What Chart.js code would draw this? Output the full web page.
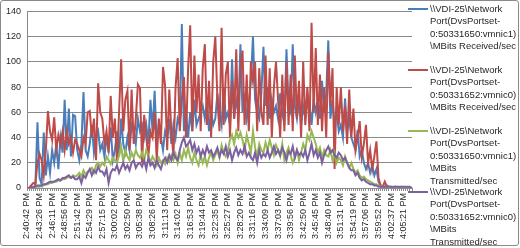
<!DOCTYPE html>
<html><head><meta charset="utf-8">
<script src="https://cdn.jsdelivr.net/npm/chart.js@4/dist/chart.umd.min.js"></script>
<style>
html,body{margin:0;padding:0;background:#fff;}
#wrap{position:relative;width:520px;height:248px;overflow:hidden;background:#fff;}
#frame{position:absolute;left:0;top:0;width:519px;height:246px;box-sizing:border-box;border:1px solid #8a8a8a;border-radius:3px;pointer-events:none;}
canvas{position:absolute;left:0;top:0;}
.leg{position:absolute;left:408px;font:9.5px "Liberation Sans",Arial,sans-serif;color:#262626;line-height:12.4px;white-space:nowrap;}
.leg .sw{position:absolute;left:0;width:20px;height:2px;top:5px;}
.leg .tx{margin-left:22px;}
</style></head>
<body>
<div id="wrap">
<canvas id="c" width="520" height="248"></canvas>
<div id="frame"></div>
<div class="leg" style="top:3px"><div class="sw" style="background:#4A7EBB"></div><div class="tx">\\VDI-25\Network<br>Port(DvsPortset-<br>0:50331650:vmnic1)<br>\MBits Received/sec</div></div>
<div class="leg" style="top:64px"><div class="sw" style="background:#BE4B48"></div><div class="tx">\\VDI-25\Network<br>Port(DvsPortset-<br>0:50331652:vmnic0)<br>\MBits Received/sec</div></div>
<div class="leg" style="top:125px"><div class="sw" style="background:#98B954"></div><div class="tx">\\VDI-25\Network<br>Port(DvsPortset-<br>0:50331650:vmnic1)<br>\MBits<br>Transmitted/sec</div></div>
<div class="leg" style="top:186px"><div class="sw" style="background:#7D60A0"></div><div class="tx">\\VDI-25\Network<br>Port(DvsPortset-<br>0:50331652:vmnic0)<br>\MBits<br>Transmitted/sec</div></div>
</div>
<script>
const tickLabels = ["2:40:42 PM","2:43:26 PM","2:46:11 PM","2:48:56 PM","2:51:42 PM","2:54:29 PM","2:57:15 PM","3:00:02 PM","3:02:50 PM","3:05:38 PM","3:08:26 PM","3:11:13 PM","3:14:02 PM","3:16:53 PM","3:19:44 PM","3:22:35 PM","3:25:27 PM","3:28:20 PM","3:31:16 PM","3:34:09 PM","3:37:03 PM","3:39:56 PM","3:42:50 PM","3:45:45 PM","3:48:40 PM","3:51:31 PM","3:54:19 PM","3:57:06 PM","3:59:52 PM","4:02:37 PM","4:05:21 PM"];
const LABEL_EVERY = 6;

const recvNic1 = [
0,0,1,0,2,52, 8,3,44,10,25,12, 30,20,35,15,40,28, 70,30,63,25,58,57, 30,22,35,76,30,25,
35,50,28,40,45,30, 35,25,40,30,48,22, 30,45,25,55,35,28, 40,30,50,45,35,55, 45,50,40,50,35,70,
45,77,35,50,40,30, 45,40,55,35,50,40, 55,50,130,45,60,40, 60,45,70,50,55,60, 65,55,70,45,60,50,
55,75,60,50,80,55, 60,50,102,55,70,60, 114,60,75,55,65,85, 120,70,60,55,75,112, 65,80,55,70,60,65,
55,75,60,50,110,65, 60,114,65,55,70,50, 65,55,75,65,50,70, 60,70,55,85,60,75, 117,55,70,50,60,45,
50,40,71,45,55,40, 35,30,46,25,30,20, 15,20,12,18,10,15, 5,2,1,1,2,1, 1,0,1,0,0,1, 0,0,0,0,0];

const recvNic0 = [
0,0,2,4,3,20, 27,22,10,30,61,45, 38,56,30,42,35,45, 30,45,35,40,28,38, 35,30,25,40,35,60,
61,40,55,22,83,60, 55,35,45,28,73,40, 55,20,60,102,45,70, 77,30,78,35,55,82, 79,20,58,40,25,45,
40,60,22,55,35,96, 81,30,78,45,25,80, 103,45,70,88,40,95, 129,45,105,60,90,45, 95,114,50,85,40,100,
120,70,45,127,50,90, 100,40,85,55,110,45, 95,109,50,90,45,100, 85,100,45,95,60,50, 105,50,95,40,80,100,
70,40,90,45,100,50, 90,45,105,55,85,40, 100,50,80,45,131,60, 111,50,90,45,80,40, 108,65,95,15,80,50,
80,45,65,35,78,40, 63,30,40,53,25,35, 50,20,30,15,25,37, 8,2,1,5,1,1, 0,0,1,0,0,0, 0,0,0,0,0];

const sentNic1 = [
0,0,0,0,1,1, 1,2,2,3,3,4, 4,5,5,6,6,7, 7,8,9,8,10,9, 10,12,9,14,11,13,
14,16,12,18,20,17, 20,18,25,22,19,24, 22,20,26,33,21,30, 25,22,28,24,30,26, 24,28,22,30,26,20,
25,22,18,24,20,22, 19,24,21,26,22,27, 20,28,22,30,25,32, 24,20,28,22,18,26, 20,25,18,24,28,22,
26,30,24,34,28,25, 30,38,42,35,45,40, 44,38,30,42,35,28, 45,32,25,35,30,28, 36,30,38,32,26,34,
30,25,35,22,28,32, 26,20,24,30,22,28, 35,30,42,38,45,40, 35,28,32,24,30,26, 25,30,22,28,20,24,
22,18,25,20,16,20, 15,12,14,10,8,9, 7,6,5,4,3,3, 2,1,1,1,1,0, 0,0,0,0,0,0, 0,0,0,0,0];

const sentNic0 = [
0,0,0,1,1,2, 2,2,3,3,4,5, 5,5,6,7,6,8, 8,9,10,8,9,7, 7,9,4,10,8,12,
15,10,14,12,17,13, 13,10,15,4,12,15, 14,18,12,16,20,15, 18,14,20,22,16,19, 20,17,22,15,24,18,
20,16,22,18,15,21, 24,20,26,22,28,24, 22,30,36,40,33,35, 38,30,35,28,32,25, 30,26,33,28,30,25,
28,32,25,30,27,33, 25,30,22,28,32,26, 30,27,33,25,28,24, 22,28,20,30,24,27, 25,30,24,28,33,27,
30,26,32,28,22,29, 27,33,24,30,26,28, 25,30,22,28,35,26, 30,24,28,20,26,30, 33,28,30,26,24,28,
26,22,24,20,16,14, 14,10,12,8,6,7, 5,4,3,3,2,2, 1,1,1,1,1,1, 1,1,1,1,1,1, 1,1,1,1,0];

const categories = recvNic1.map((_, i) => (i % LABEL_EVERY === 0 && tickLabels[i / LABEL_EVERY]) ? tickLabels[i / LABEL_EVERY] : '');

const FONT = '"Liberation Sans", Arial, sans-serif';
const AXIS = '#8a8a8a';

new Chart(document.getElementById('c'), {
  type: 'line',
  data: {
    labels: categories,
    datasets: [
      {data: recvNic1, borderColor: '#4A7EBB', order: 3},
      {data: recvNic0, borderColor: '#BE4B48', order: 2},
      {data: sentNic1, borderColor: '#98B954', order: 1},
      {data: sentNic0, borderColor: '#7D60A0', order: 0}
    ]
  },
  options: {
    responsive: false,
    animation: false,
    layout: {padding: {left: 3, right: 108, top: 9, bottom: 2}},
    plugins: {legend: {display: false}, tooltip: {enabled: false}},
    elements: {point: {radius: 0}, line: {borderWidth: 2, tension: 0}},
    scales: {
      x: {
        offset: false,
        ticks: {autoSkip: false, maxRotation: 90, minRotation: 90, padding: 2,
          font: {size: 9, family: FONT}, color: '#262626',
          callback: (v, i) => categories[i]},
        grid: {drawOnChartArea: false, drawTicks: true, tickLength: 3, color: AXIS},
        border: {color: AXIS, width: 1},
        afterFit: s => { s.height = 58; }
      },
      y: {
        min: 0, max: 140,
        ticks: {stepSize: 20, padding: 6, font: {size: 9, family: FONT}, color: '#262626'},
        grid: {color: AXIS, drawTicks: false},
        border: {display: true, color: AXIS},
        afterFit: s => { s.width = 24; }
      }
    }
  }
});
</script>
</body></html>
